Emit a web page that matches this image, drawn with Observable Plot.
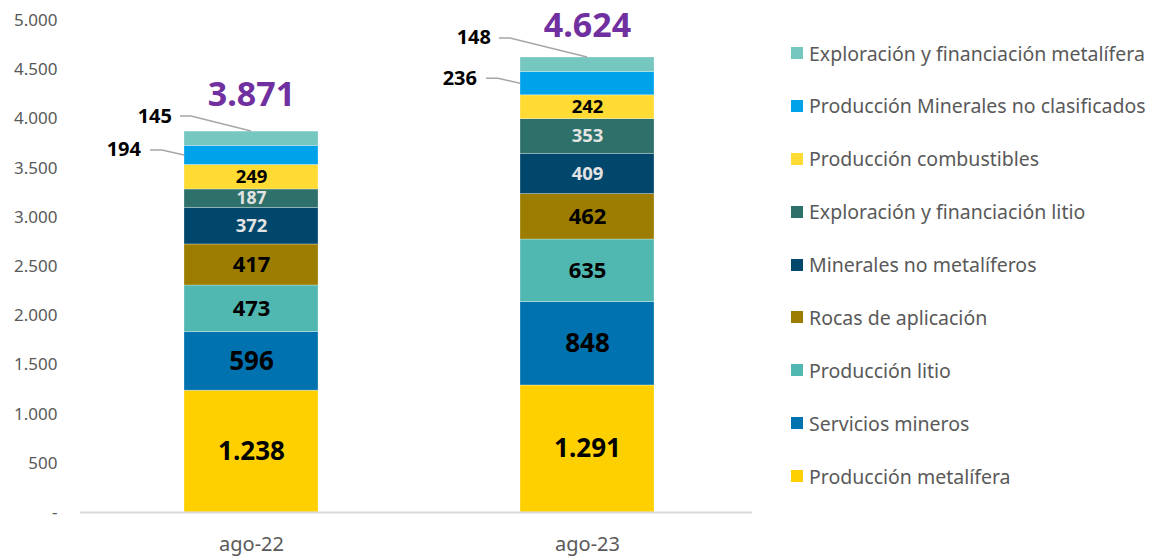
<!DOCTYPE html>
<html>
<head>
<meta charset="utf-8">
<script src="https://cdn.jsdelivr.net/npm/d3@7"></script>
<script src="https://cdn.jsdelivr.net/npm/@observablehq/plot@0.6"></script>
<style>
  html, body { margin: 0; padding: 0; background: #fff; }
  #wrap { position: relative; width: 1156px; height: 556px; font-family: "Noto Sans", sans-serif; }
  #legend { position: absolute; left: 791px; top: 40px; }
  .item { display: flex; align-items: center; height: 26px; margin-bottom: 26.9px; font-size: 19.5px; color: #595959; white-space: nowrap; }
  .sw { width: 12px; height: 12px; margin-right: 6px; flex: none; }
</style>
</head>
<body>
<div id="wrap"><div id="chart"></div><div id="legend"></div></div>
<script>
// ---- data ----
const categories = ["ago-22", "ago-23"];
const series = [
  "Producción metalífera",
  "Servicios mineros",
  "Producción litio",
  "Rocas de aplicación",
  "Minerales no metalíferos",
  "Exploración y financiación litio",
  "Producción combustibles",
  "Producción Minerales no clasificados",
  "Exploración y financiación metalífera"
];
const valuesAgo22 = [1238, 596, 473, 417, 372, 187, 249, 194, 145];
const valuesAgo23 = [1291, 848, 635, 462, 409, 353, 242, 236, 148];
const seriesColors = ["#FFD000", "#0072AF", "#50B8B1", "#9C7D00", "#00476B", "#2E716A", "#FFDB33", "#00A2EA", "#76C7C0"];
const yTicks = [0, 500, 1000, 1500, 2000, 2500, 3000, 3500, 4000, 4500, 5000];

// ---- build table ----
const loc = d3.formatLocale({decimal: ",", thousands: ".", grouping: [3], currency: ["$", ""]});
const fmt = loc.format(",d");
const valuesByCat = [valuesAgo22, valuesAgo23];
const rows = [];
const totals = [];
categories.forEach((cat, ci) => {
  let acc = 0;
  valuesByCat[ci].forEach((v, si) => {
    rows.push({cat, series: series[si], si, value: v, y1: acc, y2: acc + v, mid: acc + v / 2});
    acc += v;
  });
  totals.push({cat, total: acc});
});
const sizeFor = d => (d.si <= 1 ? 26 : d.si <= 3 ? 22 : d.value < 200 ? 17.5 : 18.5);
const inside = rows.filter(d => d.si <= 6);
const darkLabels = inside.filter(d => d.si !== 4 && d.si !== 5);
const lightLabels = inside.filter(d => d.si === 4 || d.si === 5);
const outside = rows.filter(d => d.si >= 7);

const plot = Plot.plot({
  width: 1156,
  height: 556,
  marginLeft: 80,
  marginRight: 404,
  marginTop: 20,
  marginBottom: 44,
  style: {fontFamily: "'Noto Sans', sans-serif", background: "#fff"},
  x: {domain: categories, paddingInner: 0.6, paddingOuter: 0.3, align: 0.515, label: null},
  y: {domain: [0, 5000], label: null},
  color: {domain: series, range: seriesColors},
  marks: [
    Plot.barY(rows, {x: "cat", y1: "y1", y2: "y2", fill: "series", stroke: "#ffffff", strokeOpacity: 0.35, strokeWidth: 0.8}),
    Plot.ruleY([0], {stroke: "#d9d9d9", strokeWidth: 2}),
    Plot.axisY({ticks: yTicks, tickSize: 0, tickPadding: 23, fontSize: 17, fill: "#595959",
      tickFormat: d => d === 0 ? "-" : fmt(d)}),
    Plot.axisX({tickSize: 0, tickPadding: 24, fontSize: 20, fill: "#595959"}),
    Plot.text(darkLabels, {x: "cat", y: "mid", text: d => fmt(d.value), fontSize: sizeFor,
      fontWeight: "bold", fill: "#000"}),
    Plot.text(lightLabels, {x: "cat", y: "mid", text: d => fmt(d.value), fontSize: sizeFor,
      fontWeight: "bold", fill: "#e3e3e3"}),
    Plot.text(totals.slice(0, 1), {x: "cat", y: "total", dy: -36, text: d => fmt(d.total), fontSize: 34,
      fontWeight: "bold", fill: "#7030A0"}),
    Plot.text(totals.slice(1), {x: "cat", y: "total", dy: -31, text: d => fmt(d.total), fontSize: 34,
      fontWeight: "bold", fill: "#7030A0"})
  ]
});
document.getElementById("chart").appendChild(plot);

// ---- leader-line annotations, positioned through the plot's own scales ----
const xs = plot.scale("x"), ys = plot.scale("y");
const bw = xs.bandwidth;
const svg = d3.select(plot);
const g = svg.append("g");
outside.forEach(d => {
  const left = xs.apply(d.cat), center = left + bw / 2;
  const ci = categories.indexOf(d.cat);
  let ex, ey, elx, ely, sx, tx;
  if (d.si === 8) {
    ex = center; ey = ys.apply(d.y2);
    const off = ci === 0 ? 60 : 77;
    elx = center - off; ely = ey - (ci === 0 ? 15 : 19);
    sx = elx - 11; tx = sx - 8;
  } else {
    ex = left; ey = ys.apply(d.mid);
    elx = left - 22; ely = ey - 5;
    sx = elx - 12; tx = sx - 9;
  }
  g.append("path").attr("d", `M${sx},${ely}L${elx},${ely}L${ex},${ey}`)
    .attr("fill", "none").attr("stroke", "#a6a6a6").attr("stroke-width", 1.5);
  g.append("text").attr("x", tx).attr("y", ely + 1).attr("text-anchor", "end").attr("dominant-baseline", "middle")
    .attr("font-size", 20).attr("font-weight", "bold").attr("fill", "#000").text(fmt(d.value));
});

// ---- legend (top to bottom = reverse stack order) ----
const legend = d3.select("#legend");
series.slice().reverse().forEach((s, i) => {
  const item = legend.append("div").attr("class", "item");
  item.append("div").attr("class", "sw").style("background", seriesColors[series.length - 1 - i]);
  item.append("span").text(s);
});
</script>
</body>
</html>
